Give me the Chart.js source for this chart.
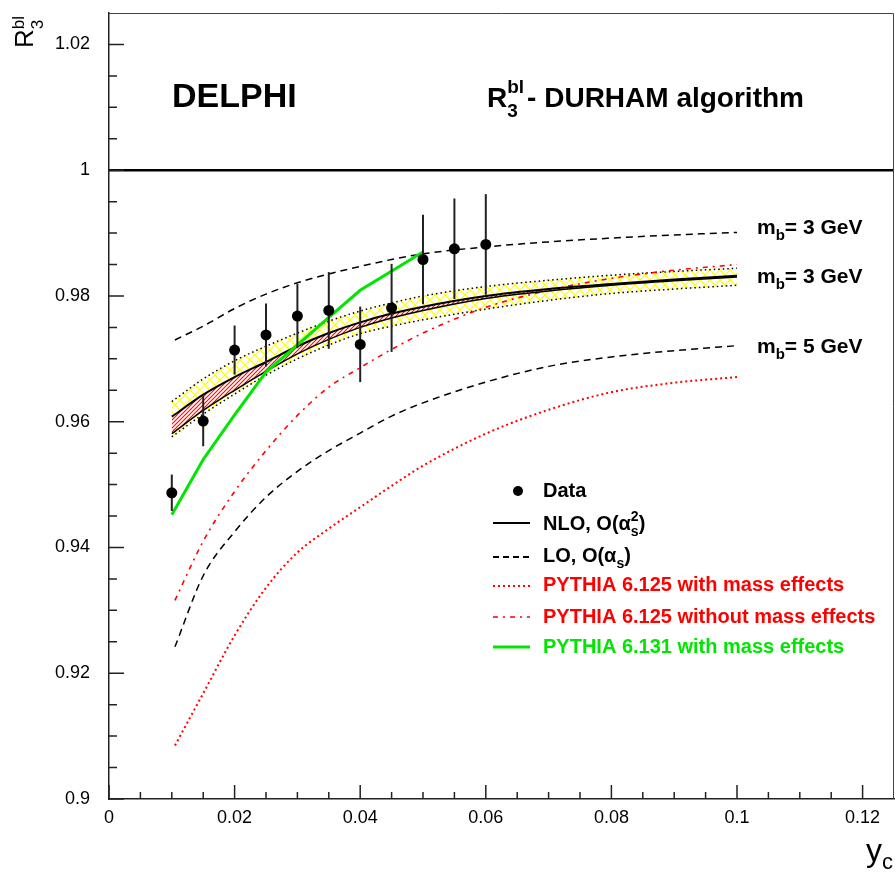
<!DOCTYPE html>
<html>
<head>
<meta charset="utf-8">
<script src="https://cdn.jsdelivr.net/npm/chart.js@4.4.0/dist/chart.umd.min.js"></script>
<style>
  html, body { margin: 0; padding: 0; background: #fff; }
  #wrap { width: 895px; height: 874px; position: relative; }
</style>
</head>
<body>
<div id="wrap"><canvas id="myChart"></canvas></div>
<script>
// measured R3bl points (DELPHI)
const ycutData = [0.01, 0.015, 0.02, 0.025, 0.03, 0.035, 0.04, 0.045, 0.05, 0.055, 0.06];
const r3Data = [0.9487, 0.9601, 0.9714, 0.9738, 0.9768, 0.9777, 0.9723, 0.9781, 0.9858, 0.9875, 0.9882];
const r3Err = [0.0029, 0.0040, 0.0039, 0.0050, 0.0051, 0.0061, 0.0060, 0.0070, 0.0071, 0.0080, 0.0080];

// NLO curves and uncertainty band
const ycutTheory = [0.01, 0.015, 0.02, 0.025, 0.03, 0.035, 0.04, 0.045, 0.05, 0.06, 0.07, 0.08, 0.09, 0.1];
const nloMb3 = [0.9608, 0.9643, 0.9671, 0.9695, 0.9720, 0.9741, 0.9758, 0.9772, 0.9783, 0.9800, 0.9811, 0.9819, 0.9826, 0.9832];
const nloMb5 = [0.9581, 0.9618, 0.9650, 0.9680, 0.9708, 0.9731, 0.9750, 0.9765, 0.9777, 0.9796, 0.9808, 0.9817, 0.9824, 0.9830];
const bandUp = [0.9632, 0.9668, 0.9697, 0.9720, 0.9741, 0.9760, 0.9776, 0.9789, 0.9800, 0.9815, 0.9825, 0.9833, 0.9839, 0.9844];
const bandLow = [0.9576, 0.9612, 0.9644, 0.9674, 0.9700, 0.9722, 0.9740, 0.9752, 0.9762, 0.9779, 0.9793, 0.9804, 0.9811, 0.9817];

// LO and PYTHIA 6.125 curves
const ycutLO = [0.0105, 0.015, 0.02, 0.025, 0.03, 0.035, 0.04, 0.045, 0.05, 0.06, 0.07, 0.08, 0.09, 0.1];
const loMb3 = [0.9730, 0.9752, 0.9780, 0.9803, 0.9821, 0.9835, 0.9847, 0.9858, 0.9867, 0.9878, 0.9886, 0.9892, 0.9897, 0.9901];
const loMb5 = [0.9242, 0.9355, 0.9425, 0.9480, 0.9521, 0.9554, 0.9582, 0.9609, 0.9630, 0.9663, 0.9688, 0.9703, 0.9713, 0.9721];
const pythiaMass = [0.9085, 0.9168, 0.9260, 0.9336, 0.9392, 0.9430, 0.9464, 0.9498, 0.9530, 0.9581, 0.9619, 0.9647, 0.9662, 0.9671];
const pythiaNoMass = [0.9316, 0.9410, 0.9489, 0.9554, 0.9610, 0.9655, 0.9686, 0.9715, 0.9741, 0.9782, 0.9809, 0.9828, 0.9841, 0.9850];

// PYTHIA 6.131
const ycutGreen = [0.01, 0.015, 0.02, 0.025, 0.03, 0.035, 0.04, 0.05];
const pythia131 = [0.9452, 0.9540, 0.9611, 0.9679, 0.9722, 0.9766, 0.9809, 0.9870];

const unitLine = [1, 1];
const xTicks = [0, 0.02, 0.04, 0.06, 0.08, 0.1, 0.12];
const yTicks = [0.9, 0.92, 0.94, 0.96, 0.98, 1, 1.02];

const FONT = '"Liberation Sans", Arial, Helvetica, sans-serif';
const RED = "#ff0000";
const GREEN = "#00e600";

const pts = (xs, ys) => xs.map((x, i) => ({ x: x, y: ys[i] }));
const fmt = v => String(+Number(v).toFixed(3));

function makePattern(size, draw) {
  const c = document.createElement("canvas");
  c.width = size; c.height = size;
  const g = c.getContext("2d");
  draw(g, size);
  return g.createPattern(c, "repeat");
}
const yellowCross = makePattern(10, (g, s) => {
  g.strokeStyle = "#ffff00"; g.lineWidth = 1.2;
  g.beginPath();
  g.moveTo(0, 0); g.lineTo(s, s);
  g.moveTo(0, s); g.lineTo(s, 0);
  g.stroke();
});
const redHatch = makePattern(4, (g, s) => {
  g.fillStyle = "rgba(255,255,255,0.96)";
  g.fillRect(0, 0, s, s);
  g.strokeStyle = "rgba(255,0,0,0.98)"; g.lineWidth = 1.1;
  g.beginPath();
  g.moveTo(-1, s + 1); g.lineTo(s + 1, -1);
  g.moveTo(-1, 1); g.lineTo(1, -1);
  g.moveTo(s - 1, s + 1); g.lineTo(s + 1, s - 1);
  g.stroke();
});

function curve(data, color, dash, width, order, extra) {
  return Object.assign({
    data: data, borderColor: color, borderDash: dash, borderWidth: width,
    pointRadius: 0, fill: false, cubicInterpolationMode: "monotone", order: order
  }, extra || {});
}

// draws text pieces with sub/superscripts
function rich(ctx, x, y, parts, color) {
  ctx.fillStyle = color;
  ctx.textBaseline = "alphabetic";
  ctx.textAlign = "left";
  for (const p of parts) {
    const w = p.bold === false ? "" : "bold ";
    ctx.font = w + p.size + "px " + FONT;
    if (p.sub !== undefined || p.sup !== undefined) {
      let adv = 0;
      if (p.sub) { ctx.fillText(p.sub, x, y + p.subDy); adv = Math.max(adv, ctx.measureText(p.sub).width); }
      if (p.sup) { ctx.fillText(p.sup, x, y - p.supDy); adv = Math.max(adv, ctx.measureText(p.sup).width); }
      x += adv;
    } else {
      ctx.fillText(p.t, x + (p.dx || 0), y);
      x += ctx.measureText(p.t).width + (p.dx || 0);
    }
  }
}

const errorBars = {
  id: "errorBars",
  afterDatasetsDraw(chart) {
    const ctx = chart.ctx, xs = chart.scales.x, ys = chart.scales.y;
    ctx.save();
    ctx.strokeStyle = "#222";
    ctx.lineWidth = 2;
    ycutData.forEach((x, i) => {
      const px = xs.getPixelForValue(x);
      ctx.beginPath();
      ctx.moveTo(px, ys.getPixelForValue(r3Data[i] - r3Err[i]));
      ctx.lineTo(px, ys.getPixelForValue(r3Data[i] + r3Err[i]));
      ctx.stroke();
    });
    ctx.fillStyle = "#000";
    ycutData.forEach((x, i) => {
      ctx.beginPath();
      ctx.arc(xs.getPixelForValue(x), ys.getPixelForValue(r3Data[i]), 5.5, 0, Math.PI * 2);
      ctx.fill();
    });
    ctx.restore();
  }
};

const decorations = {
  id: "decorations",
  afterDraw(chart) {
    const ctx = chart.ctx, a = chart.chartArea;
    const xs = chart.scales.x, ys = chart.scales.y;
    ctx.save();
    // frame top/right
    ctx.strokeStyle = "#444"; ctx.lineWidth = 1;
    ctx.beginPath();
    ctx.moveTo(a.left, a.top + 0.5); ctx.lineTo(a.right - 0.5, a.top + 0.5); ctx.lineTo(a.right - 0.5, a.bottom);
    ctx.stroke();
    // inward ticks
    ctx.strokeStyle = "#222"; ctx.lineWidth = 1.5;
    ctx.beginPath();
    for (let i = 0; i <= 25; i++) {
      const px = xs.getPixelForValue(i * 0.005);
      if (px > a.right - 1) continue;
      const len = i % 4 === 0 ? 14 : 7;
      ctx.moveTo(px, a.bottom); ctx.lineTo(px, a.bottom - len);
    }
    for (let i = 0; i <= 25; i++) {
      const py = ys.getPixelForValue(0.9 + i * 0.005);
      if (py < a.top + 1) continue;
      const len = i % 4 === 0 ? 15 : 8;
      ctx.moveTo(a.left, py); ctx.lineTo(a.left + len, py);
    }
    ctx.stroke();

    // headings
    rich(ctx, 172, 107, [{ t: "DELPHI", size: 34 }], "#000");
    rich(ctx, 487, 107, [
      { t: "R", size: 28 },
      { sub: "3", sup: "bl", size: 19, subDy: 10, supDy: 14 },
      { t: "- DURHAM algorithm", size: 28, dx: 3 }
    ], "#000");
    [234, 283, 353].forEach((b, i) => {
      rich(ctx, 757, b, [
        { t: "m", size: 21 },
        { sub: "b", size: 15, subDy: 6 },
        { t: i === 2 ? "= 5 GeV" : "= 3 GeV", size: 21 }
      ], "#000");
    });

    // axis titles
    ctx.save();
    ctx.translate(33, 48);
    ctx.rotate(-Math.PI / 2);
    rich(ctx, 0, 0, [
      { t: "R", size: 26, bold: false },
      { sub: "3", sup: "bl", size: 17, subDy: 10, supDy: 9, bold: false }
    ], "#000");
    ctx.restore();
    rich(ctx, 866, 861, [
      { t: "y", size: 32, bold: false },
      { sub: "c", size: 22, subDy: 8, bold: false }
    ], "#000");

    // legend
    const lx0 = 493, lx1 = 530, tx = 543;
    ctx.fillStyle = "#000";
    ctx.beginPath(); ctx.arc(518, 491, 5, 0, Math.PI * 2); ctx.fill();
    rich(ctx, tx, 497, [{ t: "Data", size: 20 }], "#000");
    const sample = (y, color, dash, width) => {
      ctx.strokeStyle = color; ctx.lineWidth = width; ctx.setLineDash(dash);
      ctx.beginPath(); ctx.moveTo(lx0, y); ctx.lineTo(lx1, y); ctx.stroke();
      ctx.setLineDash([]);
    };
    sample(523, "#000", [], 2);
    rich(ctx, tx, 530, [
      { t: "NLO, O(\u03b1", size: 20 },
      { sub: "s", sup: "2", size: 14, subDy: 6, supDy: 9 },
      { t: ")", size: 20 }
    ], "#000");
    sample(557, "#000", [6, 4], 2);
    rich(ctx, tx, 562, [
      { t: "LO, O(\u03b1", size: 20 },
      { sub: "s", size: 14, subDy: 6 },
      { t: ")", size: 20 }
    ], "#000");
    sample(586, RED, [2, 3], 2);
    rich(ctx, tx, 591, [{ t: "PYTHIA 6.125 with mass effects", size: 20 }], RED);
    sample(617, RED, [5, 5, 2, 5], 1.6);
    rich(ctx, tx, 623, [{ t: "PYTHIA 6.125 without mass effects", size: 20 }], RED);
    sample(647, GREEN, [], 3);
    rich(ctx, tx, 653, [{ t: "PYTHIA 6.131 with mass effects", size: 20 }], GREEN);
    ctx.restore();
  }
};

const ctx = document.getElementById("myChart");
const config = {
  type: "line",
  data: {
    datasets: [
      curve(pts(ycutTheory, bandUp), "#000", [1.5, 3], 1.5, 20, { fill: "+1", backgroundColor: yellowCross }),
      curve(pts(ycutTheory, bandLow), "#000", [1.5, 3], 1.5, 19),
      curve(pts(ycutTheory, nloMb3), "#000", [], 2, 12, { fill: "+1", backgroundColor: redHatch }),
      curve(pts(ycutTheory, nloMb5), "#000", [], 1.5, 11),
      curve(pts(ycutLO, loMb3), "#000", [7, 5], 1.5, 15),
      curve(pts(ycutLO, loMb5), "#000", [7, 5], 1.5, 15),
      curve(pts(ycutLO, pythiaMass), RED, [2, 3], 2, 14),
      curve(pts(ycutLO, pythiaNoMass), RED, [5, 5, 2, 5], 1.6, 14),
      curve(pts(ycutGreen, pythia131), GREEN, [], 3, 5, { cubicInterpolationMode: "default", tension: 0 }),
      curve(pts([0, 0.125], unitLine), "#000", [], 2.5, 16)
    ]
  },
  options: {
    responsive: true,
    maintainAspectRatio: false,
    animation: false,
    layout: { padding: { top: 13, right: 1, left: 0, bottom: 0 } },
    plugins: { legend: { display: false }, tooltip: { enabled: false } },
    scales: {
      x: {
        type: "linear", min: 0, max: 0.125,
        afterBuildTicks: s => { s.ticks = xTicks.map(v => ({ value: v })); },
        afterFit: s => { s.height = 75; s.paddingLeft = 0; s.paddingRight = 0; },
        grid: { display: false, drawTicks: false },
        border: { display: true, color: "#222", width: 1.5 },
        ticks: { padding: 8, color: "#000", maxRotation: 0, autoSkip: false,
          font: { family: FONT, size: 18 }, callback: v => fmt(v) }
      },
      y: {
        type: "linear", min: 0.9, max: 1.025,
        afterBuildTicks: s => { s.ticks = yTicks.map(v => ({ value: v })); },
        afterFit: s => { s.width = 109; s.paddingTop = 0; s.paddingBottom = 0; },
        grid: { display: false, drawTicks: false },
        border: { display: true, color: "#222", width: 1.5 },
        ticks: { padding: 19, color: "#000", autoSkip: false,
          font: { family: FONT, size: 18 }, callback: v => fmt(v) }
      }
    }
  },
  plugins: [errorBars, decorations]
};
const myChart = new Chart(ctx, config);
</script>
</body>
</html>
